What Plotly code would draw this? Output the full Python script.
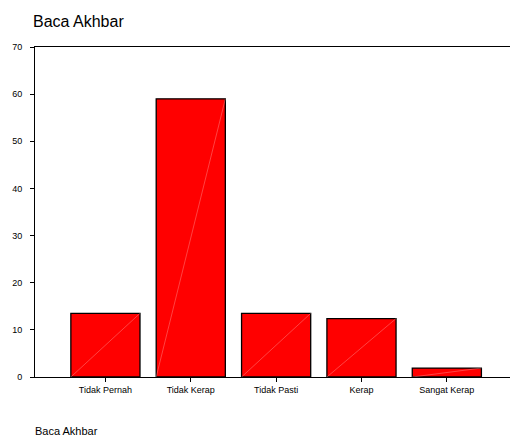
import plotly.graph_objects as go

categories = ["Tidak Pernah", "Tidak Kerap", "Tidak Pasti", "Kerap", "Sangat Kerap"]
values = [13.5, 59.0, 13.5, 12.4, 1.9]
y_ticks = [0, 10, 20, 30, 40, 50, 60, 70]

W, H = 510, 438
bar_width = 0.81

fig = go.Figure()
fig.add_trace(go.Bar(
    x=list(range(len(categories))), y=values, width=bar_width,
    marker=dict(color="#FF0000", line=dict(color="#000000", width=1.3)),
    hoverinfo="skip", showlegend=False,
))
# faint diagonal artifact lines inside each bar
for i, v in enumerate(values):
    fig.add_trace(go.Scatter(
        x=[i - bar_width / 2, i + bar_width / 2], y=[0, v], mode="lines",
        line=dict(color="rgba(255,190,190,0.7)", width=0.5),
        hoverinfo="skip", showlegend=False,
    ))

fig.update_layout(
    width=W, height=H,
    margin=dict(l=35, r=0, t=47, b=61, autoexpand=False),
    paper_bgcolor="white", plot_bgcolor="white",
    font=dict(family="Liberation Sans, Arial, sans-serif", color="#000000", size=9),
    title=dict(text="Baca Akhbar", xref="container", x=33 / W, xanchor="left",
               yref="container", y=1 - 21 / H, yanchor="middle",
               font=dict(size=16, family="Liberation Sans, Arial, sans-serif")),
    xaxis=dict(
        range=[-0.825, 4.74], tickmode="array", tickvals=list(range(len(categories))),
        ticktext=categories, showline=True, linecolor="#000000", linewidth=1,
        mirror=True, ticks="outside", ticklen=4, tickcolor="#000000",
        showgrid=False, zeroline=False, tickfont=dict(size=9), automargin=False,
    ),
    yaxis=dict(
        range=[0, 70], tickmode="array", tickvals=y_ticks,
        showline=True, linecolor="#000000", linewidth=1,
        ticks="outside", ticklen=4, tickcolor="#000000", ticklabelstandoff=6,
        showgrid=False, zeroline=False, tickfont=dict(size=9), automargin=False,
    ),
    annotations=[dict(text="Baca Akhbar", xref="paper", yref="paper", x=0, y=0,
                      xanchor="left", yanchor="middle", yshift=-54, xshift=-2,
                      showarrow=False, font=dict(size=11))],
)

fig.write_html("out.html", config={"displayModeBar": False},
               post_script="document.body.style.margin='0';document.body.style.overflow='hidden';")
